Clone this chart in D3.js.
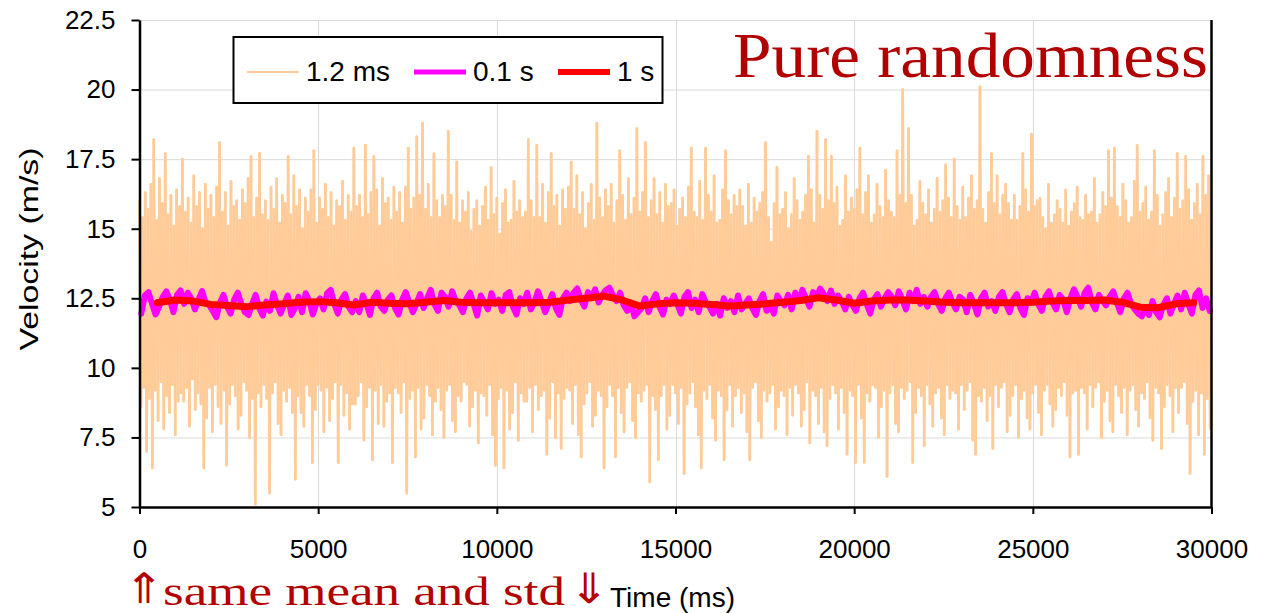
<!DOCTYPE html>
<html>
<head>
<meta charset="utf-8">
<script src="https://cdn.jsdelivr.net/npm/d3@7"></script>
<style>
  body { margin: 0; background: #fff; }
  svg { display: block; }
</style>
</head>
<body>
<div id="chart"></div>
<script>
// ---- data ----
const xTicks = [0, 5000, 10000, 15000, 20000, 25000, 30000];
const yTicks = [5, 7.5, 10, 12.5, 15, 17.5, 20, 22.5];

const seriesNames = ["1.2 ms", "0.1 s", "1 s"];
const seriesColors = ["#FFCC99", "#FF00FF", "#FF0000"];

// 1.2 ms raw signal: local peaks and troughs, one pair per 80 ms (peak then trough)
const rawHighs = [
  16.0, 15.4, 16.3, 15.7, 16.6, 18.2, 15.3, 16.8, 15.9, 17.7, 15.5, 16.2, 15.1, 16.4, 15.8,
  17.5, 15.6, 16.1, 15.2, 16.9, 15.8, 16.3, 15.0, 16.6, 15.7, 16.2, 15.4, 16.5, 18.1, 15.6,
  16.3, 15.1, 16.7, 15.8, 16.0, 15.3, 16.4, 15.9, 16.8, 17.6, 15.4, 16.1, 17.7, 15.5, 16.0,
  15.3, 16.5, 15.7, 16.8, 15.2, 16.2, 15.9, 17.6, 15.5, 16.9, 15.8, 16.4, 15.0, 16.1, 15.6,
  16.4, 17.8, 15.2, 16.1, 15.7, 16.6, 15.4, 16.3, 15.1, 16.0, 15.8, 16.7, 15.3, 16.2, 15.6,
  17.9, 15.8, 16.2, 15.4, 18.0, 15.5, 16.3, 17.6, 16.4, 15.1, 16.8, 15.9, 16.1, 15.3, 16.5,
  15.6, 16.3, 15.2, 16.5, 17.9, 15.7, 16.1, 18.3, 16.2, 18.8, 15.7, 16.6, 15.4, 17.7, 16.0,
  15.4, 16.2, 15.8, 18.5, 16.2, 15.3, 17.4, 15.2, 16.0, 15.6, 16.3, 14.9, 15.7, 16.0, 15.1,
  15.8, 16.5, 15.3, 17.2, 15.5, 16.1, 14.8, 15.9, 16.4, 15.2, 15.3, 16.7, 15.6, 16.0, 15.4,
  15.6, 18.2, 16.0, 15.4, 18.0, 15.4, 16.6, 15.2, 16.3, 17.7, 15.8, 16.2, 15.1, 16.4, 15.7,
  16.5, 17.4, 15.7, 16.9, 15.5, 16.3, 15.0, 15.9, 16.6, 15.3, 18.8, 16.1, 15.4, 16.4, 15.8,
  16.6, 15.2, 16.0, 17.8, 16.2, 15.3, 16.8, 15.5, 16.1, 18.6, 15.6, 16.3, 18.1, 15.4, 16.0,
  16.8, 15.5, 16.3, 15.2, 16.6, 15.8, 15.9, 16.4, 15.1, 15.7, 16.1, 15.4, 16.5, 17.9, 15.6,
  15.4, 16.7, 15.3, 17.9, 16.2, 15.6, 16.9, 15.2, 15.3, 16.4, 17.8, 16.0, 15.5, 16.2, 15.8,
  16.4, 15.8, 15.1, 16.6, 15.2, 16.1, 15.6, 15.9, 16.3, 18.1, 15.4, 14.5, 15.9, 17.2, 15.5,
  15.7, 16.3, 15.0, 15.5, 16.8, 16.0, 15.3, 15.6, 16.2, 17.6, 16.4, 15.2, 18.5, 16.2, 15.7,
  18.2, 16.0, 17.6, 15.9, 16.5, 15.1, 15.3, 16.9, 15.6, 16.1, 15.7, 16.4, 17.9, 15.5, 16.3,
  16.9, 15.2, 15.5, 16.6, 15.8, 15.4, 17.1, 16.0, 15.6, 15.4, 17.8, 16.2, 20.0, 15.9, 18.6,
  16.2, 15.1, 15.3, 16.7, 15.9, 15.5, 16.4, 15.2, 15.7, 16.8, 15.6, 16.0, 17.3, 16.1, 15.4,
  17.5, 15.8, 15.3, 16.5, 15.4, 16.1, 16.9, 15.7, 16.0, 20.1, 15.7, 15.2, 16.3, 17.7, 15.9,
  16.9, 15.5, 16.2, 16.6, 15.9, 15.3, 16.2, 15.3, 15.8, 17.7, 16.4, 15.6, 18.4, 15.8, 16.0,
  16.1, 15.4, 15.0, 16.6, 15.2, 15.5, 16.0, 15.7, 15.2, 16.4, 15.1, 15.6, 15.9, 16.5, 15.4,
  15.3, 16.2, 15.5, 15.6, 16.8, 15.2, 15.5, 16.3, 15.8, 17.8, 16.1, 17.9, 15.8, 15.4, 16.6,
  16.0, 15.2, 15.4, 16.7, 18.0, 15.6, 15.9, 16.5, 15.3, 15.6, 17.8, 16.2, 15.1, 15.5, 16.3,
  16.8, 15.4, 16.1, 17.7, 15.7, 16.0, 17.6, 16.4, 15.3, 15.9, 16.6, 15.5, 17.6, 16.2, 16.9
];
const rawLows = [
  8.6, 9.3, 7.0, 8.9, 6.4, 9.2, 8.1, 9.5, 7.8, 9.0, 8.4, 9.4, 7.6, 8.8, 9.1,
  8.8, 9.3, 7.9, 9.6, 8.5, 9.1, 8.7, 6.4, 8.2, 9.3, 7.7, 9.4, 8.6, 8.0, 9.2,
  6.5, 8.7, 9.4, 9.0, 7.8, 8.3, 9.5, 9.2, 7.5, 8.9, 5.1, 9.1, 8.6, 9.4, 8.9,
  5.5, 9.1, 9.5, 8.0, 7.6, 9.2, 8.8, 9.3, 8.4, 6.0, 9.0, 8.4, 7.9, 9.4, 9.0,
  6.6, 8.5, 9.4, 9.2, 7.7, 9.3, 8.1, 8.9, 9.5, 6.6, 9.4, 8.3, 9.1, 7.8, 8.7,
  8.7, 9.0, 9.5, 7.4, 8.6, 9.3, 6.7, 9.2, 8.0, 9.4, 7.9, 8.8, 9.1, 6.6, 9.3,
  9.1, 8.4, 9.5, 5.5, 8.9, 9.2, 6.8, 9.3, 7.8, 8.2, 9.4, 9.0, 7.6, 8.8, 9.3,
  8.5, 7.5, 9.2, 9.4, 8.1, 7.7, 9.0, 8.8, 9.5, 9.4, 7.9, 8.6, 9.2, 7.3, 9.1,
  9.0, 8.3, 9.4, 7.6, 6.5, 8.9, 9.3, 6.4, 9.2, 7.8, 8.4, 9.5, 7.4, 9.1, 8.8,
  8.8, 9.3, 7.7, 9.4, 8.5, 9.0, 9.2, 6.9, 8.2, 9.5, 7.5, 9.1, 7.1, 8.9, 9.3,
  9.2, 8.0, 9.4, 7.6, 6.8, 8.7, 9.1, 9.5, 7.9, 8.3, 9.2, 9.0, 6.4, 8.6, 9.4,
  9.0, 6.8, 9.3, 8.4, 7.7, 9.3, 9.5, 8.1, 7.5, 9.1, 8.8, 9.2, 9.4, 5.9, 9.0,
  8.5, 6.7, 9.0, 9.4, 7.8, 8.3, 9.4, 9.1, 8.0, 9.3, 6.2, 8.7, 9.1, 9.5, 8.6,
  7.6, 6.4, 9.2, 8.9, 9.4, 8.2, 7.4, 9.2, 9.0, 6.7, 8.5, 9.4, 7.9, 9.0, 9.3,
  8.4, 9.1, 7.7, 6.7, 9.3, 9.5, 8.1, 7.5, 9.2, 8.8, 9.1, 9.4, 7.8, 8.6, 9.2,
  9.0, 7.6, 9.3, 8.3, 9.4, 9.1, 7.9, 8.5, 9.5, 7.3, 9.2, 9.0, 8.0, 9.3, 7.7,
  7.2, 8.9, 9.4, 9.1, 7.8, 9.3, 8.4, 6.9, 9.2, 9.0, 6.6, 9.4, 8.2, 6.6, 9.1,
  8.8, 9.4, 9.3, 7.5, 8.6, 9.2, 6.1, 9.1, 9.4, 8.0, 7.7, 9.3, 8.9, 9.2, 9.5,
  6.6, 8.4, 9.3, 9.0, 7.2, 9.4, 8.7, 7.9, 9.1, 9.3, 8.2, 7.6, 9.4, 8.9, 9.2,
  9.1, 7.8, 9.4, 8.5, 9.2, 9.5, 7.4, 6.9, 9.0, 8.8, 9.3, 8.1, 9.0, 7.1, 9.4,
  8.6, 9.3, 9.5, 7.7, 8.3, 9.0, 9.4, 7.5, 8.9, 9.2, 8.2, 7.8, 9.1, 9.4, 8.4,
  7.6, 9.2, 9.4, 8.7, 7.9, 8.5, 9.3, 9.0, 9.5, 8.3, 6.8, 9.1, 9.2, 6.9, 9.3,
  9.1, 7.8, 9.4, 8.6, 9.3, 9.5, 7.5, 8.8, 9.2, 8.1, 7.7, 9.4, 9.0, 8.4, 9.3,
  7.6, 9.2, 9.4, 8.5, 7.9, 9.1, 8.9, 9.5, 8.2, 7.4, 9.3, 9.1, 7.1, 8.6, 9.4,
  9.0, 7.7, 9.3, 8.4, 9.3, 9.5, 8.0, 6.2, 8.8, 9.2, 7.6, 9.1, 6.9, 8.9, 7.8
];
const rawStep = 80; // ms per peak/trough pair

// 0.1 s average, one value every 100 ms
const avg100 = [
  11.95, 12.6, 12.72, 12.3, 11.92, 12.2, 12.55, 12.75, 12.45, 12.0,
  12.62, 12.78, 12.3, 12.7, 12.5, 12.1, 12.45, 12.76, 12.35, 12.25,
  12.05, 11.82, 12.35, 12.62, 12.2, 11.95, 12.45, 12.7, 12.3, 12.0,
  11.9, 12.3, 12.62, 12.15, 11.88, 12.38, 12.05, 12.68, 12.25, 11.95,
  12.3, 12.6, 11.9, 12.15, 12.55, 12.0, 12.68, 12.4, 11.92, 12.3,
  12.5, 12.1, 12.68, 12.8, 12.3, 11.95, 12.45, 12.65, 12.2, 12.0,
  12.4, 12.0, 12.6, 12.3, 11.9, 12.5, 12.7, 12.2, 12.05, 12.45,
  12.6, 12.15, 11.92, 12.45, 12.72, 12.35, 12.0, 12.3, 12.65, 12.15,
  12.5, 12.8, 12.3, 12.05, 12.7, 12.55, 12.2, 12.75, 12.4, 12.25,
  12.0, 12.5, 12.7, 12.3, 11.88, 12.6, 12.35, 12.1, 12.68, 12.3,
  12.45, 12.05, 12.62, 12.72, 12.2, 11.92, 12.5, 12.3, 12.7, 12.1,
  12.35, 12.75, 12.4, 12.0, 12.3, 12.65, 12.15, 11.9, 12.5, 12.7,
  12.4, 12.7, 12.85, 12.45, 12.2, 12.72, 12.5, 12.82, 12.35, 12.62,
  12.8, 12.88, 12.6, 12.4, 12.7, 12.25, 12.05, 12.35, 11.85, 12.0,
  12.15, 12.5, 12.0, 12.4, 12.65, 12.2, 11.92, 12.45, 12.3, 12.6,
  12.3, 11.95, 12.55, 12.72, 12.15, 12.45, 12.0, 12.65, 12.35, 12.2,
  11.95, 12.3, 11.88, 12.5, 12.15, 12.4, 12.0, 12.6, 12.1, 12.3,
  12.5, 12.15, 11.9, 12.4, 12.65, 12.05, 12.3, 11.95, 12.6, 12.4,
  12.25, 12.62, 12.1, 12.7, 12.4, 12.8, 12.5, 12.2, 12.72, 12.55,
  12.85, 12.65, 12.4, 12.78, 12.3, 12.6, 12.4, 12.1, 12.55, 12.25,
  12.05, 12.5, 12.7, 12.3, 11.95, 12.45, 12.65, 12.2, 12.5, 12.72,
  12.55, 12.25, 12.75, 12.45, 12.1, 12.7, 12.4, 12.8, 12.3, 12.55,
  12.2, 12.55, 12.72, 12.3, 12.05, 12.5, 12.7, 12.35, 12.1, 12.55,
  12.45, 12.0, 12.62, 12.3, 11.92, 12.5, 12.7, 12.2, 12.4, 12.05,
  12.55, 12.72, 12.3, 12.0, 12.45, 12.65, 12.15, 11.9, 12.5, 12.35,
  12.7, 12.3, 12.05, 12.55, 12.75, 12.35, 12.1, 12.62, 12.45, 12.0,
  12.5, 12.82, 12.55, 12.2, 12.7, 12.88, 12.35, 12.1, 12.62, 12.4,
  12.25, 12.55, 12.75, 12.35, 12.0, 12.5, 12.7, 12.3, 12.1, 11.95,
  11.85, 12.15, 11.9, 12.4, 12.0, 11.82, 12.25, 12.5, 11.95, 12.3,
  12.6, 12.1, 12.7, 12.3, 11.95, 12.62, 12.78, 12.15, 12.5, 12.05
];

// 1 s average, sampled every 500 ms from 500 ms
const avg1000 = [
  12.34, 12.44, 12.40, 12.28, 12.24, 12.20, 12.26, 12.30, 12.36, 12.38,
  12.34, 12.26, 12.36, 12.32, 12.30, 12.36, 12.42, 12.36, 12.34, 12.34,
  12.34, 12.34, 12.36, 12.44, 12.50, 12.58, 12.44, 12.22, 12.30, 12.34,
  12.32, 12.28, 12.22, 12.26, 12.30, 12.36, 12.42, 12.52, 12.44, 12.32,
  12.40, 12.44, 12.44, 12.40, 12.36, 12.34, 12.34, 12.34, 12.34, 12.36,
  12.40, 12.42, 12.42, 12.44, 12.36, 12.18, 12.16, 12.30, 12.34
];

// ---- build point lists ----
const rawSeries = [];
rawHighs.forEach((h, i) => {
  rawSeries.push({t: i * rawStep, v: h});
  rawSeries.push({t: i * rawStep + rawStep / 2, v: rawLows[i]});
});
const s100 = avg100.map((v, i) => ({t: 50 + i * 100, v: v}));
const s1000 = avg1000.map((v, i) => ({t: 500 + i * 500, v: v}));

// ---- layout ----
const W = 1264, H = 613;
const plot = {left: 139.5, right: 1211.5, top: 20, bottom: 507};
const sans = "'Liberation Sans', Arial, sans-serif";
const serif = "'Liberation Serif', 'DejaVu Serif', serif";
const darkRed = "#B20000";

const svg = d3.select("#chart").append("svg")
  .attr("width", W).attr("height", H);

const x = d3.scaleLinear().domain([0, 30000]).range([plot.left, plot.right]);
const y = d3.scaleLinear().domain([5, 22.5]).range([plot.bottom, plot.top]);

// grid
svg.append("g").selectAll("line.hg").data(yTicks.filter(d => d > 5)).enter()
  .append("line")
  .attr("x1", plot.left).attr("x2", plot.right)
  .attr("y1", d => y(d) + 0.5).attr("y2", d => y(d) + 0.5)
  .attr("stroke", "#DADADA").attr("stroke-width", 1);
svg.append("g").selectAll("line.vg").data(xTicks.filter(d => d > 0 && d < 30000)).enter()
  .append("line")
  .attr("x1", d => Math.round(x(d)) + 0.5).attr("x2", d => Math.round(x(d)) + 0.5)
  .attr("y1", plot.top).attr("y2", plot.bottom)
  .attr("stroke", "#DADADA").attr("stroke-width", 1);

// raw 1.2 ms signal, one segment per step
svg.append("g")
  .attr("stroke", seriesColors[0])
  .attr("stroke-width", 2.6)
  .attr("stroke-linecap", "round")
  .selectAll("line")
  .data(d3.pairs(rawSeries))
  .enter().append("line")
  .attr("x1", d => x(d[0].t)).attr("y1", d => y(d[0].v))
  .attr("x2", d => x(d[1].t)).attr("y2", d => y(d[1].v));

// averaged series
const line = d3.line().x(d => x(d.t)).y(d => y(d.v));
[[s100, 6], [s1000, 7]].forEach(([data, w], k) => {
  svg.append("path")
    .datum(data)
    .attr("fill", "none")
    .attr("stroke", seriesColors[k + 1])
    .attr("stroke-width", w)
    .attr("stroke-linejoin", "round")
    .attr("stroke-linecap", "round")
    .attr("d", line);
});

// axes
const yAxis = svg.append("g")
  .attr("transform", `translate(${plot.left},0)`)
  .call(d3.axisLeft(y).tickValues(yTicks).tickSize(8).tickPadding(16).tickSizeOuter(0)
    .tickFormat(d => String(d)));
const xAxis = svg.append("g")
  .attr("transform", `translate(0,${plot.bottom})`)
  .call(d3.axisBottom(x).tickValues(xTicks).tickSize(7).tickPadding(26).tickSizeOuter(0)
    .tickFormat(d => String(d)));
[yAxis, xAxis].forEach(a => {
  a.select(".domain").attr("stroke", "#000").attr("stroke-width", 2.5);
  a.selectAll(".tick line").attr("stroke", "#000").attr("stroke-width", 2);
  a.selectAll(".tick text").attr("fill", "#000")
    .style("font-family", sans).style("font-size", "26px");
});
// right frame
svg.append("line")
  .attr("x1", plot.right).attr("x2", plot.right)
  .attr("y1", plot.top).attr("y2", plot.bottom)
  .attr("stroke", "#000").attr("stroke-width", 2.5);

// axis titles
svg.append("text")
  .attr("transform", "translate(38,249) rotate(-90)")
  .attr("text-anchor", "middle")
  .attr("textLength", 203).attr("lengthAdjust", "spacingAndGlyphs")
  .style("font-family", sans).style("font-size", "25px")
  .text("Velocity (m/s)");
svg.append("text")
  .attr("x", 610).attr("y", 607)
  .attr("textLength", 125).attr("lengthAdjust", "spacingAndGlyphs")
  .style("font-family", sans).style("font-size", "27px")
  .text("Time (ms)");

// annotations
svg.append("text")
  .attr("x", 733).attr("y", 77)
  .attr("textLength", 475).attr("lengthAdjust", "spacingAndGlyphs")
  .attr("fill", darkRed)
  .style("font-family", serif).style("font-size", "63px")
  .text("Pure randomness");
const note = svg.append("g").attr("fill", darkRed);
note.append("text")
  .attr("transform", "translate(144,603) scale(1.6,1.4)")
  .attr("text-anchor", "middle")
  .style("font-family", "'DejaVu Sans', sans-serif").style("font-size", "30px")
  .text("\u21D1");
note.append("text")
  .attr("x", 163).attr("y", 605)
  .attr("textLength", 402).attr("lengthAdjust", "spacingAndGlyphs")
  .style("font-family", serif).style("font-size", "41px")
  .text("same mean and std");
note.append("text")
  .attr("transform", "translate(589,603) scale(1.6,1.4)")
  .attr("text-anchor", "middle")
  .style("font-family", "'DejaVu Sans', sans-serif").style("font-size", "30px")
  .text("\u21D3");

// legend
const legend = svg.append("g");
legend.append("rect")
  .attr("x", 233.5).attr("y", 37).attr("width", 429).attr("height", 66)
  .attr("fill", "#fff").attr("stroke", "#000").attr("stroke-width", 2);
const legX = [247, 414, 558];
const legW = [2, 5, 6];
seriesNames.forEach((name, k) => {
  legend.append("line")
    .attr("x1", legX[k]).attr("x2", legX[k] + 52)
    .attr("y1", 72).attr("y2", 72)
    .attr("stroke", seriesColors[k]).attr("stroke-width", legW[k]);
  legend.append("text")
    .attr("x", legX[k] + 59).attr("y", 81)
    .style("font-family", sans).style("font-size", "28px")
    .text(name);
});
</script>
</body>
</html>
